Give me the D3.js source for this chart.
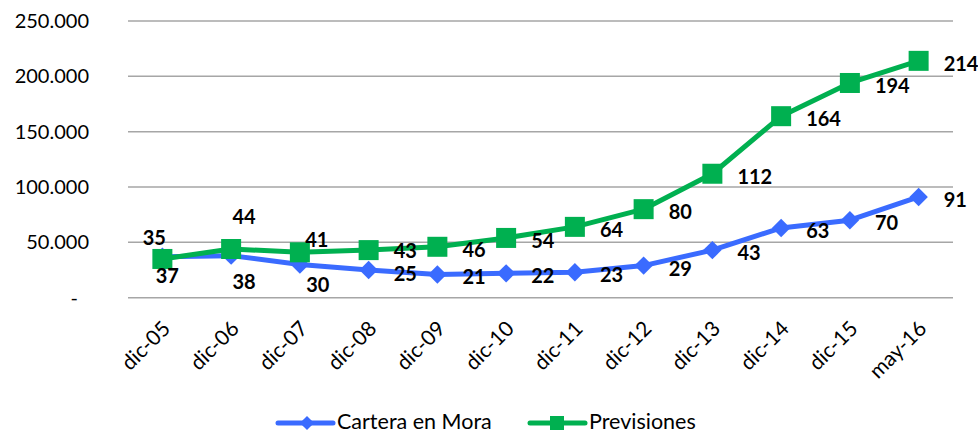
<!DOCTYPE html>
<html>
<head>
<meta charset="utf-8">
<script src="https://cdn.jsdelivr.net/npm/d3@7"></script>
<style>
  html, body { margin: 0; padding: 0; background: #fff; }
  svg { display: block; font-family: Lato, "Open Sans", sans-serif; }
</style>
</head>
<body>
<svg id="chart" width="978" height="434"></svg>
<script>
// ---- data ----
const categories = ["dic-05","dic-06","dic-07","dic-08","dic-09","dic-10","dic-11","dic-12","dic-13","dic-14","dic-15","may-16"];
const carteraEnMora = [37, 38, 30, 25, 21, 22, 23, 29, 43, 63, 70, 91];      // thousands
const previsiones   = [35, 44, 41, 43, 46, 54, 64, 80, 112, 164, 194, 214];  // thousands
const yTicks = [0, 50000, 100000, 150000, 200000, 250000];
const seriesNames = ["Cartera en Mora", "Previsiones"];

// ---- layout ----
const W = 978, H = 434;
const plot = { left: 128, right: 953, top: 21, bottom: 297.7 };
const blue = "#3A6BFF", green = "#00B050", grid = "#A6A6A6";

const svg = d3.select("#chart");
const x = d3.scalePoint().domain(categories).range([plot.left, plot.right]).padding(0.5);
const y = d3.scaleLinear().domain([0, 250000]).range([plot.bottom, plot.top]);

// gridlines
svg.append("g").selectAll("line").data(yTicks).join("line")
  .attr("x1", plot.left).attr("x2", plot.right)
  .attr("y1", d => y(d)).attr("y2", d => y(d))
  .attr("stroke", grid).attr("stroke-width", 1.5);

// y axis labels
const fmt = d => d === 0 ? "-" : d3.format(",")(d).replace(/,/g, ".");
svg.append("g").selectAll("text").data(yTicks).join("text")
  .attr("x", d => d === 0 ? 78 : 89)
  .attr("y", d => y(d))
  .attr("dy", "0.35em")
  .attr("text-anchor", "end")
  .attr("font-size", 20)
  .attr("fill", "#000")
  .text(fmt);

// x axis labels
svg.append("g").selectAll("text").data(categories).join("text")
  .attr("transform", d => `translate(${x(d) + 4},${plot.bottom + 27}) rotate(-45)`)
  .attr("text-anchor", "end")
  .attr("dy", "0.35em")
  .attr("font-size", 21)
  .attr("fill", "#000")
  .text(d => d);

const line = d3.line().x((d, i) => x(categories[i])).y(d => y(d * 1000));

// Cartera en Mora
svg.append("path").datum(carteraEnMora)
  .attr("d", line).attr("fill", "none").attr("stroke", blue)
  .attr("stroke-width", 5).attr("stroke-linejoin", "round");
svg.append("g").selectAll("path").data(carteraEnMora).join("path")
  .attr("transform", (d, i) => `translate(${x(categories[i])},${y(d * 1000)}) rotate(45)`)
  .attr("d", d3.symbol().type(d3.symbolSquare).size(170))
  .attr("fill", blue);

// Previsiones
svg.append("path").datum(previsiones)
  .attr("d", line).attr("fill", "none").attr("stroke", green)
  .attr("stroke-width", 5).attr("stroke-linejoin", "round");
svg.append("g").selectAll("rect").data(previsiones).join("rect")
  .attr("x", (d, i) => x(categories[i]) - 10)
  .attr("y", d => y(d * 1000) - 10)
  .attr("width", 20).attr("height", 20)
  .attr("fill", green);

// data labels
const defaultPlace = [25, 2, "start"];
const placeCartera = { 0: [5, 18, "middle"], 1: [13, 25, "middle"], 2: [18, 20, "middle"], 3: [25, 3, "start"] };
const placePrev = { 0: [-8, -22, "middle"], 1: [13, -33, "middle"], 2: [17, -13, "middle"], 3: [25, 0, "start"] };
function labels(data, place) {
  svg.append("g").selectAll("text").data(data).join("text")
    .each(function(d, i) {
      const p = place[i] || defaultPlace;
      d3.select(this)
        .attr("x", x(categories[i]) + p[0])
        .attr("y", y(d * 1000) + p[1])
        .attr("text-anchor", p[2]);
    })
    .attr("dominant-baseline", "central")
    .attr("font-size", 20)
    .attr("font-weight", "bold")
    .attr("fill", "#000")
    .text(d => d);
}
labels(carteraEnMora, placeCartera);
labels(previsiones, placePrev);

// legend
const legendY = 423;
const lg = svg.append("g");
const items = [
  { name: seriesNames[0], color: blue, x0: 278, type: "diamond" },
  { name: seriesNames[1], color: green, x0: 530, type: "square" }
];
items.forEach(it => {
  lg.append("line").attr("x1", it.x0).attr("x2", it.x0 + 55)
    .attr("y1", legendY).attr("y2", legendY)
    .attr("stroke", it.color).attr("stroke-width", 5).attr("stroke-linecap", "round");
  if (it.type === "diamond") {
    lg.append("path").attr("transform", `translate(${it.x0 + 29},${legendY}) rotate(45)`)
      .attr("d", d3.symbol().type(d3.symbolSquare).size(100)).attr("fill", it.color);
  } else {
    lg.append("rect").attr("x", it.x0 + 20).attr("y", legendY - 7)
      .attr("width", 14).attr("height", 14).attr("fill", it.color);
  }
  lg.append("text").attr("x", it.x0 + 59).attr("y", 429)
    .attr("font-size", 21.5).attr("fill", "#000")
    .text(it.name);
});
</script>
</body>
</html>
